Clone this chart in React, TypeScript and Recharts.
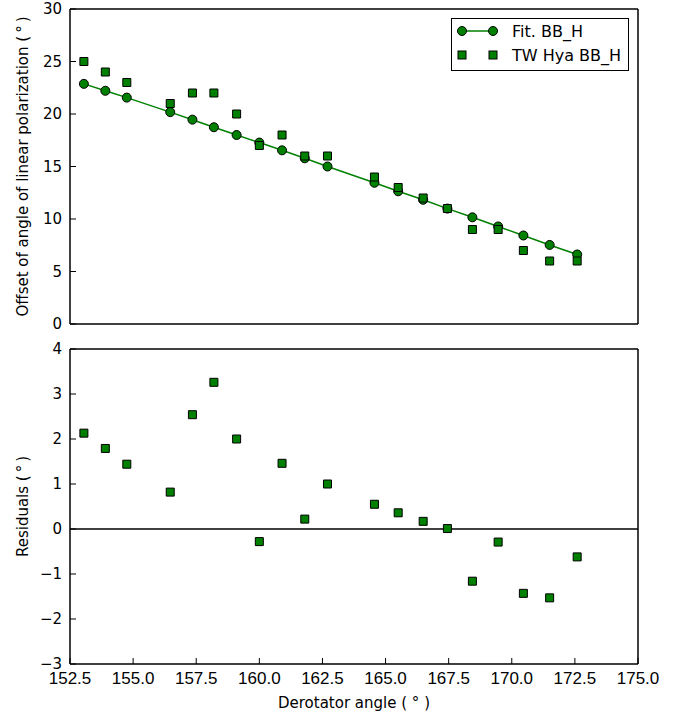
import React from 'react';
import { ComposedChart, Line, Scatter, XAxis, YAxis, ReferenceLine } from 'recharts';

// derotator angle of each observation (deg)
const angles = [153.05, 153.9, 154.75, 156.47, 157.35, 158.2, 159.1, 160.0, 160.9, 161.8, 162.7, 164.56, 165.5, 166.49, 167.45, 168.44, 169.46, 170.46, 171.5, 172.59];
// fitted offset (Fit. BB_H)
const fitValues = [22.87, 22.21, 21.56, 20.18, 19.46, 18.74, 18.0, 17.28, 16.54, 15.78, 15.0, 13.45, 12.64, 11.83, 10.99, 10.16, 9.29, 8.43, 7.53, 6.62];
// measured offset (TW Hya BB_H)
const measured = [25, 24, 23, 21, 22, 22, 20, 17, 18, 16, 16, 14, 13, 12, 11, 9, 9, 7, 6, 6];
// residuals
const residuals = [2.13, 1.79, 1.44, 0.82, 2.54, 3.26, 2.0, -0.28, 1.46, 0.22, 1.0, 0.55, 0.36, 0.17, 0.01, -1.16, -0.29, -1.43, -1.53, -0.62];

const xTicks = [152.5, 155.0, 157.5, 160.0, 162.5, 165.0, 167.5, 170.0, 172.5, 175.0];
const topYTicks = [0, 5, 10, 15, 20, 25, 30];
const bottomYTicks = [-3, -2, -1, 0, 1, 2, 3, 4];

const rows = angles.map((a, i) => ({ angle: a, fit: fitValues[i], obs: measured[i], res: residuals[i] }));

const GREEN = '#008000';
const FONT = '"DejaVu Sans", sans-serif';
const W = 683;

const axisLine = { stroke: '#000', strokeWidth: 1.5 };
const tickLine = { stroke: '#000', strokeWidth: 1 };
const yTick = { fontFamily: FONT, fontSize: 15, fill: '#000' };
const xTick = { fontFamily: '"Liberation Sans", sans-serif', fontSize: 17, fill: '#000' };

const fmtY = (v: number) => (v < 0 ? '\u2212' + Math.abs(v) : String(v));

const yLabel = (text: string) => (props: any) => {
  const vb = props.viewBox || {};
  const cx = 23;
  const cy = vb.y + vb.height / 2;
  return (
    <text x={cx} y={cy} transform={`rotate(-90, ${cx}, ${cy})`} textAnchor="middle" dominantBaseline="central"
      fontFamily={FONT} fontSize={15} fill="#000">
      {text}
    </text>
  );
};

const xLabel = (props: any) => {
  const vb = props.viewBox || {};
  return (
    <text x={vb.x + vb.width / 2} y={vb.y + 39} textAnchor="middle" dominantBaseline="central"
      fontFamily={FONT} fontSize={15} fill="#000">
      Derotator angle ( ° )
    </text>
  );
};

const LegendBox = () => (
  <div style={{ position: 'absolute', left: 451, top: 18, width: 178, height: 53, border: '1.5px solid #000', background: '#fff', boxSizing: 'border-box' }}>
    <svg width={175} height={50} style={{ display: 'block' }}>
      <line x1={10} y1={12} x2={41} y2={12} stroke={GREEN} strokeWidth={1.5} />
      <circle cx={10} cy={12} r={4.5} fill={GREEN} stroke="#000" strokeWidth={1} />
      <circle cx={41} cy={12} r={4.5} fill={GREEN} stroke="#000" strokeWidth={1} />
      <text x={60} y={12} dominantBaseline="central" fontFamily={FONT} fontSize={16} fill="#000">Fit. BB_H</text>
      <rect x={6} y={32} width={8} height={8} fill={GREEN} stroke="#000" strokeWidth={1} />
      <rect x={37} y={32} width={8} height={8} fill={GREEN} stroke="#000" strokeWidth={1} />
      <text x={60} y={36} dominantBaseline="central" fontFamily={FONT} fontSize={16} fill="#000">TW Hya BB_H</text>
    </svg>
  </div>
);

export default function App() {
  return (
    <div style={{ position: 'absolute', left: 0, top: 0, width: W, height: 717, background: '#fff' }}>
      <div style={{ position: 'absolute', left: 0, top: 0 }}>
        <ComposedChart width={W} height={335} data={rows} margin={{ top: 8, right: 44, bottom: 10, left: 0 }}>
          <XAxis dataKey="angle" type="number" domain={[152.5, 175]} ticks={xTicks} allowDataOverflow
            height={1} tick={false} tickSize={-6} axisLine={axisLine} tickLine={tickLine} />
          <XAxis xAxisId="top" orientation="top" type="number" domain={[152.5, 175]} ticks={xTicks} allowDataOverflow
            height={1} tick={false} tickSize={-6} axisLine={axisLine} tickLine={tickLine} />
          <YAxis dataKey="obs" type="number" domain={[0, 30]} ticks={topYTicks} allowDataOverflow width={70}
            tick={yTick} tickSize={-6} tickMargin={14} axisLine={axisLine} tickLine={tickLine} tickFormatter={fmtY}
            label={yLabel('Offset of angle of linear polarization (\u2009\u00b0\u2009)')} />
          <YAxis yAxisId="right" orientation="right" type="number" domain={[0, 30]} ticks={topYTicks} allowDataOverflow width={1}
            tick={false} tickSize={-6} axisLine={axisLine} tickLine={tickLine} />
          <Line dataKey="fit" type="linear" stroke={GREEN} strokeWidth={1.5} isAnimationActive={false}
            dot={{ r: 4.5, fill: GREEN, stroke: '#000', strokeWidth: 1 }} activeDot={false} />
          <Scatter data={rows} dataKey="obs" shape="square" fill={GREEN} stroke="#000" strokeWidth={1} isAnimationActive={false} />
        </ComposedChart>
      </div>
      <LegendBox />
      <div style={{ position: 'absolute', left: 0, top: 340 }}>
        <ComposedChart width={W} height={377} data={rows} margin={{ top: 8, right: 44, bottom: 0, left: 0 }}>
          <XAxis dataKey="angle" type="number" domain={[152.5, 175]} ticks={xTicks} allowDataOverflow interval={0}
            height={53} tick={xTick} tickSize={-6} tickMargin={14} axisLine={axisLine} tickLine={tickLine}
            tickFormatter={(v: number) => v.toFixed(1)} label={xLabel} />
          <XAxis xAxisId="top" orientation="top" type="number" domain={[152.5, 175]} ticks={xTicks} allowDataOverflow
            height={1} tick={false} tickSize={-6} axisLine={axisLine} tickLine={tickLine} />
          <YAxis dataKey="res" type="number" domain={[-3, 4]} ticks={bottomYTicks} allowDataOverflow width={70}
            tick={yTick} tickSize={-6} tickMargin={14} axisLine={axisLine} tickLine={tickLine} tickFormatter={fmtY}
            label={yLabel('Residuals (\u2009\u00b0\u2009)')} />
          <YAxis yAxisId="right" orientation="right" type="number" domain={[-3, 4]} ticks={bottomYTicks} allowDataOverflow width={1}
            tick={false} tickSize={-6} axisLine={axisLine} tickLine={tickLine} />
          <ReferenceLine y={0} stroke="#000" strokeWidth={1.5} />
          <Scatter data={rows} dataKey="res" shape="square" fill={GREEN} stroke="#000" strokeWidth={1} isAnimationActive={false} />
        </ComposedChart>
      </div>
    </div>
  );
}
